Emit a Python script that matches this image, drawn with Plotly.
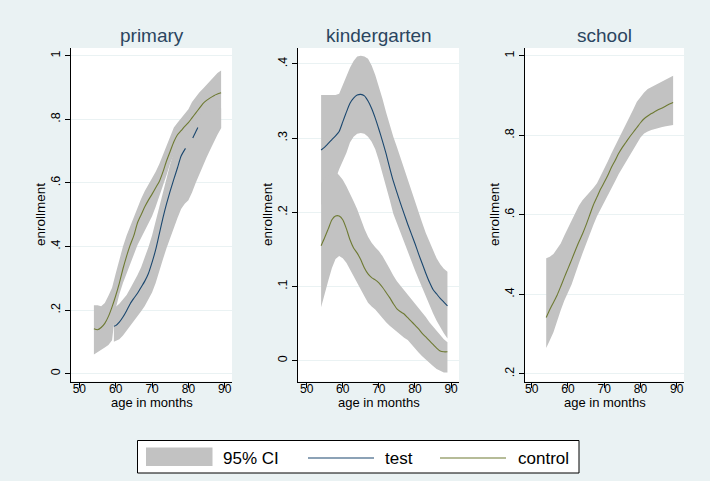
import plotly.graph_objects as go

# ---------------- data ----------------
ages = list(range(54, 90))

# primary
p_ctrl = [0.141, 0.138, 0.145, 0.158, 0.18, 0.21, 0.245, 0.285, 0.33, 0.37, 0.405, 0.435,
          0.475, 0.50, 0.525, 0.546, 0.565, 0.585, 0.605, 0.635, 0.67, 0.70, 0.73, 0.752,
          0.765, 0.778, 0.79, 0.805, 0.82, 0.835, 0.85, 0.86, 0.868, 0.875, 0.88, 0.884]
p_ctrl_hi = [0.215, 0.215, 0.212, 0.222, 0.245, 0.27, 0.315, 0.36, 0.40, 0.435, 0.465, 0.495,
             0.525, 0.55, 0.575, 0.595, 0.615, 0.635, 0.66, 0.69, 0.72, 0.75, 0.775, 0.79,
             0.805, 0.818, 0.832, 0.855, 0.872, 0.885, 0.897, 0.91, 0.922, 0.935, 0.946, 0.954]
p_ctrl_lo = [0.06, 0.067, 0.074, 0.082, 0.09, 0.105, 0.205, 0.25, 0.285, 0.32, 0.345, 0.375,
             0.405, 0.428, 0.45, 0.472, 0.495, 0.525, 0.555, 0.59, 0.625, 0.662, 0.69, 0.71,
             0.725, 0.74, 0.75, 0.76, 0.765, 0.77, 0.772, 0.774, 0.775, 0.775, 0.774, 0.773]

p_test_ages = [59.5, 60, 61, 62, 63, 64, 65, 66, 67, 68, 69, 70, 71, 72, 73, 74, 75, 76, 77,
               78, 79.2, None, 81.2, 82.6]
p_test = [0.149, 0.151, 0.162, 0.178, 0.198, 0.22, 0.237, 0.253, 0.272, 0.291, 0.315, 0.35,
          0.39, 0.44, 0.49, 0.535, 0.575, 0.612, 0.648, 0.685, 0.709, None, 0.742, 0.775]

p_band_ages = [59.5, 60, 61, 62, 63, 64, 65, 66, 67, 68, 69, 70, 71, 72, 73, 74, 75, 76, 77,
               78, 79, 80, 81, 82, 83, 84, 85, 86, 87, 88, 89]
p_test_hi = [0.21, 0.21, 0.22, 0.232, 0.247, 0.268, 0.288, 0.31, 0.335, 0.365, 0.398, 0.435,
             0.48, 0.53, 0.575, 0.619, 0.66, 0.695, 0.725, 0.75, 0.77, 0.785, 0.795, 0.805,
             0.812, 0.818, 0.822, 0.826, 0.829, 0.832, 0.835]
p_test_lo = [0.10, 0.101, 0.108, 0.12, 0.135, 0.15, 0.165, 0.18, 0.196, 0.213, 0.232, 0.255,
             0.285, 0.32, 0.36, 0.395, 0.43, 0.46, 0.49, 0.518, 0.535, 0.546, 0.57, 0.60,
             0.63, 0.655, 0.68, 0.705, 0.73, 0.752, 0.772]

# kindergarten
k_test = [0.284, 0.288, 0.293, 0.298, 0.303, 0.309, 0.322, 0.335, 0.347, 0.354, 0.358, 0.359,
          0.357, 0.35, 0.34, 0.327, 0.312, 0.296, 0.279, 0.26, 0.242, 0.227, 0.212, 0.198,
          0.184, 0.171, 0.158, 0.144, 0.131, 0.118, 0.106, 0.096, 0.09, 0.084, 0.079, 0.074]
k_test_hi = [0.358, 0.358, 0.358, 0.358, 0.358, 0.36, 0.372, 0.385, 0.395, 0.404, 0.41, 0.411,
             0.41, 0.407, 0.398, 0.385, 0.37, 0.353, 0.335, 0.318, 0.302, 0.288, 0.273, 0.258,
             0.243, 0.229, 0.215, 0.2, 0.186, 0.172, 0.16, 0.148, 0.138, 0.13, 0.124, 0.12]
k_test_lo = [0.21, 0.217, 0.225, 0.235, 0.245, 0.258, 0.27, 0.28, 0.294, 0.302, 0.306, 0.307,
             0.306, 0.302, 0.295, 0.285, 0.27, 0.253, 0.235, 0.217, 0.198, 0.185, 0.172, 0.16,
             0.147, 0.135, 0.122, 0.11, 0.098, 0.087, 0.075, 0.064, 0.054, 0.045, 0.037, 0.03]
k_ctrl = [0.155, 0.166, 0.178, 0.19, 0.195, 0.195, 0.19, 0.178, 0.163, 0.152, 0.145, 0.136,
          0.125, 0.117, 0.112, 0.109, 0.105, 0.099, 0.092, 0.085, 0.077, 0.07, 0.066, 0.063,
          0.058, 0.053, 0.048, 0.043, 0.037, 0.032, 0.027, 0.022, 0.017, 0.013, 0.012, 0.012]
k_ctrl_hi = [0.24, 0.245, 0.25, 0.253, 0.255, 0.25, 0.244, 0.235, 0.226, 0.215, 0.204, 0.19,
             0.178, 0.167, 0.159, 0.153, 0.148, 0.141, 0.133, 0.124, 0.115, 0.107, 0.101, 0.095,
             0.089, 0.083, 0.078, 0.072, 0.066, 0.059, 0.052, 0.046, 0.04, 0.034, 0.029, 0.025]
k_ctrl_lo = [0.072, 0.09, 0.108, 0.125, 0.137, 0.141, 0.138, 0.132, 0.123, 0.113, 0.105, 0.096,
             0.087, 0.078, 0.073, 0.069, 0.064, 0.058, 0.052, 0.047, 0.042, 0.038, 0.035, 0.031,
             0.028, 0.022, 0.017, 0.011, 0.006, 0.001, -0.003, -0.007, -0.011, -0.014, -0.016, -0.016]

# school
s_ctrl = [0.342, 0.362, 0.38, 0.398, 0.42, 0.443, 0.465, 0.487, 0.51, 0.532, 0.552, 0.575,
          0.60, 0.625, 0.645, 0.665, 0.682, 0.70, 0.72, 0.737, 0.755, 0.77, 0.783, 0.796,
          0.808, 0.82, 0.832, 0.842, 0.849, 0.855, 0.86, 0.865, 0.869, 0.874, 0.879, 0.883]
s_hi = [0.491, 0.495, 0.502, 0.515, 0.528, 0.548, 0.567, 0.587, 0.606, 0.623, 0.637, 0.647,
        0.657, 0.668, 0.68, 0.697, 0.715, 0.735, 0.755, 0.773, 0.79, 0.808, 0.825, 0.845,
        0.865, 0.885, 0.898, 0.908, 0.917, 0.922, 0.926, 0.93, 0.935, 0.94, 0.945, 0.95]
s_lo = [0.265, 0.285, 0.305, 0.33, 0.36, 0.385, 0.405, 0.425, 0.45, 0.478, 0.503, 0.527,
        0.552, 0.575, 0.597, 0.616, 0.633, 0.65, 0.667, 0.685, 0.703, 0.72, 0.735, 0.75,
        0.765, 0.78, 0.795, 0.805, 0.81, 0.814, 0.817, 0.819, 0.821, 0.823, 0.825, 0.826]

panel_titles = ["primary", "kindergarten", "school"]
x_title = "age in months"
y_title = "enrollment"
x_ticks = [50, 60, 70, 80, 90]
y_ticks = [[0, 0.2, 0.4, 0.6, 0.8, 1], [0, 0.1, 0.2, 0.3, 0.4], [0.2, 0.4, 0.6, 0.8, 1]]
y_ticktext = [["0", ".2", ".4", ".6", ".8", "1"], ["0", ".1", ".2", ".3", ".4"],
              [".2", ".4", ".6", ".8", "1"]]
legend_labels = ["95% CI", "test", "control"]

# ---------------- style ----------------
W, H = 717, 485
BG = "#EAF2F3"
BAND = "#C2C2C2"
TEST_C = "#1a476f"
CTRL_C = "#6e7a33"
FONT = "Liberation Sans, Arial, sans-serif"
TITLE_C = "#2a4560"

fig = go.Figure()


def band(x, hi, lo, xa, ya):
    fig.add_trace(go.Scatter(x=list(x) + list(x)[::-1], y=list(hi) + list(lo)[::-1],
                             fill="toself", fillcolor=BAND, line=dict(width=0),
                             mode="lines", hoverinfo="skip", showlegend=False,
                             xaxis=xa, yaxis=ya))


def line(x, y, color, xa, ya):
    fig.add_trace(go.Scatter(x=x, y=y, mode="lines",
                             line=dict(color=color, width=1.1, shape="spline", smoothing=0.6),
                             connectgaps=False, showlegend=False, xaxis=xa, yaxis=ya))


# primary
band(ages, p_ctrl_hi, p_ctrl_lo, "x", "y")
band(p_band_ages, p_test_hi, p_test_lo, "x", "y")
line(p_test_ages, p_test, TEST_C, "x", "y")
line(ages, p_ctrl, CTRL_C, "x", "y")
# kindergarten
band(ages, k_test_hi, k_test_lo, "x2", "y2")
band(ages, k_ctrl_hi, k_ctrl_lo, "x2", "y2")
line(ages, k_test, TEST_C, "x2", "y2")
line(ages, k_ctrl, CTRL_C, "x2", "y2")
# school
band(ages, s_hi, s_lo, "x3", "y3")
line(ages, s_ctrl, CTRL_C, "x3", "y3")

# panel pixel geometry
xdom_px = [(71, 232), (298, 459), (525, 684)]
ydom = [1 - 381.5 / H, 1 - 48 / H]
xranges = [[47.7, 92.0], [47.6, 92.2], [48.15, 92.0]]
yranges = [[-0.025, 1.025], [-0.028, 0.4215], [0.181, 1.02]]


def px(x):
    return x / W


def py(y):
    return 1 - y / H


layout = dict(
    width=W, height=H, margin=dict(l=0, r=0, t=0, b=0, autoexpand=False),
    paper_bgcolor=BG, plot_bgcolor="white", showlegend=False,
    font=dict(family=FONT, color="black"),
)
for i in range(3):
    sfx = "" if i == 0 else str(i + 1)
    layout["xaxis" + sfx] = dict(
        domain=[xdom_px[i][0] / W, xdom_px[i][1] / W], range=xranges[i],
        anchor="y" + sfx, tickvals=x_ticks, ticks="outside", ticklen=5,
        tickcolor="black", showline=True, linecolor="black", linewidth=1,
        showgrid=False, zeroline=False, tickfont=dict(size=12, color="black"),
        ticklabelstandoff=-9,
    )
    layout["yaxis" + sfx] = dict(
        domain=ydom, range=yranges[i], anchor="x" + sfx,
        tickvals=y_ticks[i], ticktext=y_ticktext[i], tickangle=-90,
        ticks="outside", ticklen=5, tickcolor="black", showline=True,
        linecolor="black", linewidth=1, showgrid=True, gridcolor=BG, gridwidth=1,
        zeroline=False, tickfont=dict(size=12.5, color="black"),
        ticklabelstandoff=0,
    )
fig.update_layout(**layout)

for i, t in enumerate(panel_titles):
    cx = (xdom_px[i][0] + xdom_px[i][1]) / 2
    # panel title
    fig.add_annotation(x=px(cx), y=py(36), xref="paper", yref="paper", text=t,
                       showarrow=False, font=dict(size=19, color=TITLE_C, family=FONT),
                       xanchor="center", yanchor="middle")
    # x axis title
    fig.add_annotation(x=px(cx), y=py(402), xref="paper", yref="paper", text=x_title,
                       showarrow=False, font=dict(size=13, color="black", family=FONT),
                       xanchor="center", yanchor="middle")
    # y axis title
    fig.add_annotation(x=px(xdom_px[i][0] - 31), y=py(215), xref="paper", yref="paper",
                       text=y_title, textangle=-90, showarrow=False,
                       font=dict(size=13.5, color="black", family=FONT),
                       xanchor="center", yanchor="middle")

# outer white strips
fig.add_shape(type="rect", xref="paper", yref="paper", x0=px(710), x1=1, y0=0, y1=1,
              fillcolor="white", line=dict(width=0), layer="above")
fig.add_shape(type="rect", xref="paper", yref="paper", x0=0, x1=1, y0=0, y1=py(481),
              fillcolor="white", line=dict(width=0), layer="above")

# legend box
fig.add_shape(type="rect", xref="paper", yref="paper", x0=px(137.5), x1=px(579),
              y0=py(473), y1=py(440.5), fillcolor="white", line=dict(color="black", width=1))
fig.add_shape(type="rect", xref="paper", yref="paper", x0=px(146), x1=px(212.5),
              y0=py(466), y1=py(447.5), fillcolor=BAND, line=dict(width=0))
fig.add_shape(type="line", xref="paper", yref="paper", x0=px(308), x1=px(374),
              y0=py(458), y1=py(458), line=dict(color=TEST_C, width=1.1))
fig.add_shape(type="line", xref="paper", yref="paper", x0=px(440), x1=px(506),
              y0=py(458), y1=py(458), line=dict(color=CTRL_C, width=1.1))
for lx, lab in zip([221, 383, 516], legend_labels):
    fig.add_annotation(x=px(lx), y=py(458), xref="paper", yref="paper", text=lab,
                       showarrow=False, xanchor="left", yanchor="middle",
                       font=dict(size=17, color="black", family=FONT))

fig.write_html("out.html", config={"displayModeBar": False},
               post_script="document.body.style.margin='0px';document.body.style.padding='0px';")
